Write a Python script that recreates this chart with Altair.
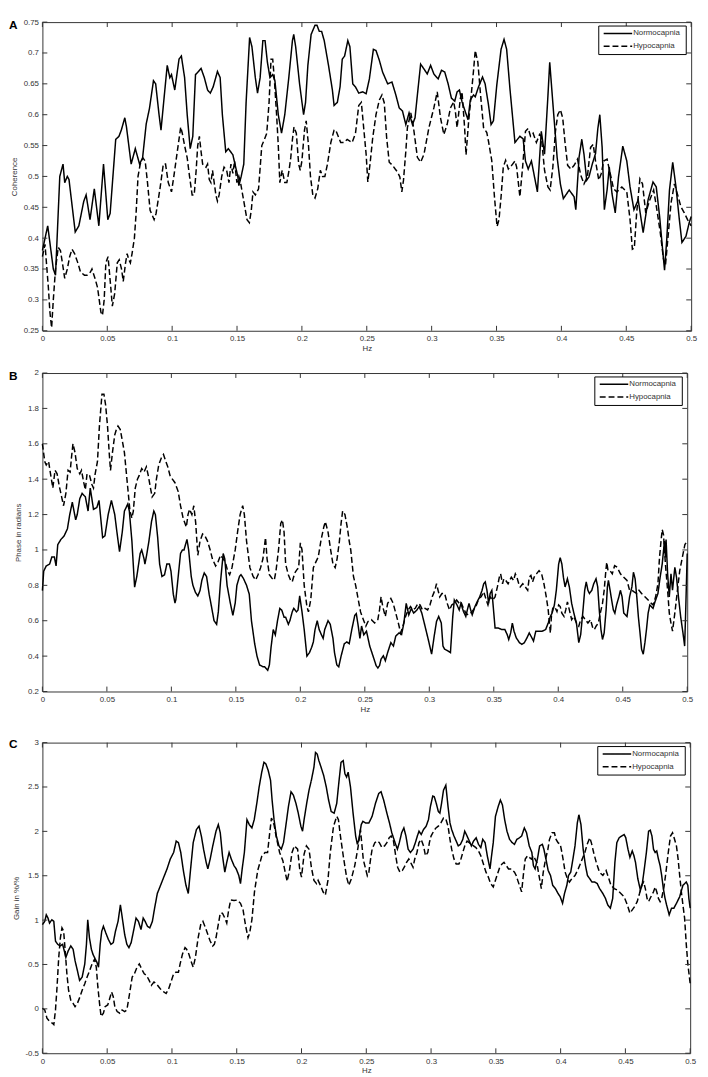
import altair as alt
import pandas as pd

SERIES = ["Normocapnia", "Hypocapnia"]
X_TICKS = [0, 0.05, 0.1, 0.15, 0.2, 0.25, 0.3, 0.35, 0.4, 0.45, 0.5]
A_Y_TICKS = [0.25, 0.3, 0.35, 0.4, 0.45, 0.5, 0.55, 0.6, 0.65, 0.7, 0.75]
B_Y_TICKS = [0.2, 0.4, 0.6, 0.8, 1, 1.2, 1.4, 1.6, 1.8, 2]
C_Y_TICKS = [-0.5, 0, 0.5, 1, 1.5, 2, 2.5, 3]

# Panel A: coherence (Hz, value)
A_NORMOCAPNIA = [
    (0.0, 0.38), (0.0041, 0.42), (0.0084, 0.35), (0.0101, 0.34), (0.0134, 0.50), (0.0159, 0.52),
    (0.0172, 0.49), (0.0192, 0.50), (0.0205, 0.495), (0.0253, 0.41), (0.0281, 0.42), (0.0319, 0.46),
    (0.0337, 0.47), (0.0367, 0.43), (0.0400, 0.48), (0.0435, 0.42), (0.0471, 0.52), (0.0504, 0.43),
    (0.0522, 0.44), (0.0565, 0.56), (0.0590, 0.565), (0.0608, 0.575), (0.0635, 0.595), (0.0648, 0.58),
    (0.0684, 0.52), (0.0716, 0.545), (0.0749, 0.52), (0.0772, 0.53), (0.0800, 0.585), (0.0825, 0.61),
    (0.0856, 0.655), (0.0873, 0.65), (0.0899, 0.60), (0.0914, 0.575), (0.0939, 0.63), (0.0962, 0.68),
    (0.0982, 0.66), (0.0995, 0.665), (0.1020, 0.64), (0.1053, 0.69), (0.1071, 0.695), (0.1096, 0.66),
    (0.1116, 0.60), (0.1139, 0.545), (0.1159, 0.565), (0.1180, 0.665), (0.1203, 0.67), (0.1223, 0.675),
    (0.1248, 0.66), (0.1273, 0.64), (0.1294, 0.635), (0.1316, 0.645), (0.1349, 0.67), (0.1370, 0.66),
    (0.1387, 0.60), (0.1413, 0.54), (0.1433, 0.545), (0.1468, 0.535), (0.1484, 0.52), (0.1506, 0.50),
    (0.1514, 0.485), (0.1532, 0.50), (0.1552, 0.52), (0.1570, 0.62), (0.1597, 0.725), (0.1615, 0.71),
    (0.1641, 0.66), (0.1658, 0.635), (0.1678, 0.66), (0.1699, 0.72), (0.1716, 0.72), (0.1734, 0.685),
    (0.1754, 0.66), (0.1775, 0.665), (0.1792, 0.655), (0.1818, 0.60), (0.1843, 0.57), (0.1868, 0.60),
    (0.1899, 0.66), (0.1927, 0.72), (0.1937, 0.73), (0.1952, 0.71), (0.1982, 0.65), (0.2013, 0.60),
    (0.2028, 0.62), (0.2046, 0.68), (0.2071, 0.73), (0.2101, 0.745), (0.2116, 0.745), (0.2134, 0.735),
    (0.2152, 0.735), (0.2172, 0.72), (0.2205, 0.68), (0.2235, 0.64), (0.2248, 0.615), (0.2273, 0.62),
    (0.2294, 0.645), (0.2311, 0.69), (0.2329, 0.695), (0.2354, 0.72), (0.2370, 0.71), (0.2392, 0.65),
    (0.2413, 0.645), (0.2438, 0.635), (0.2469, 0.637), (0.2495, 0.634), (0.2520, 0.658), (0.2551, 0.706),
    (0.2571, 0.704), (0.2597, 0.688), (0.2622, 0.669), (0.2661, 0.65), (0.2694, 0.653), (0.2724, 0.632),
    (0.2750, 0.611), (0.2775, 0.606), (0.2801, 0.584), (0.2826, 0.603), (0.2852, 0.584), (0.2872, 0.595),
    (0.2890, 0.632), (0.2915, 0.682), (0.2941, 0.674), (0.2966, 0.666), (0.2992, 0.68), (0.3017, 0.666),
    (0.3050, 0.658), (0.3076, 0.672), (0.3101, 0.669), (0.3127, 0.65), (0.3152, 0.627), (0.3178, 0.622),
    (0.3196, 0.637), (0.3214, 0.64), (0.3234, 0.621), (0.3259, 0.605), (0.3280, 0.592), (0.3298, 0.624),
    (0.3323, 0.632), (0.3336, 0.629), (0.3361, 0.645), (0.3392, 0.661), (0.3412, 0.65), (0.3438, 0.616),
    (0.3458, 0.584), (0.3476, 0.59), (0.3502, 0.648), (0.3535, 0.706), (0.3558, 0.722), (0.3578, 0.706),
    (0.3603, 0.643), (0.3642, 0.555), (0.3680, 0.565), (0.3705, 0.561), (0.3723, 0.525), (0.3744, 0.512),
    (0.3769, 0.525), (0.3815, 0.475), (0.3845, 0.573), (0.3870, 0.536), (0.3896, 0.63), (0.3910, 0.685),
    (0.3941, 0.60), (0.3967, 0.531), (0.3992, 0.488), (0.4015, 0.464), (0.4060, 0.478), (0.4098, 0.467),
    (0.4111, 0.446), (0.4136, 0.531), (0.4157, 0.56), (0.4174, 0.536), (0.4195, 0.494), (0.4212, 0.499),
    (0.4238, 0.52), (0.4263, 0.537), (0.4281, 0.578), (0.4296, 0.60), (0.4314, 0.547), (0.4331, 0.446),
    (0.4352, 0.478), (0.4369, 0.515), (0.4390, 0.472), (0.4415, 0.441), (0.4440, 0.499), (0.4473, 0.549),
    (0.4504, 0.525), (0.4529, 0.483), (0.4559, 0.446), (0.4592, 0.462), (0.4630, 0.409), (0.4668, 0.462),
    (0.4706, 0.491), (0.4731, 0.483), (0.4757, 0.435), (0.4782, 0.377), (0.4795, 0.348), (0.4812, 0.398),
    (0.4833, 0.478), (0.4858, 0.523), (0.4883, 0.483), (0.4909, 0.43), (0.4929, 0.393), (0.4960, 0.403),
    (0.4985, 0.425), (0.5, 0.435),
]
A_HYPOCAPNIA = [
    (0.0, 0.37), (0.0020, 0.39), (0.0046, 0.32), (0.0058, 0.28), (0.0071, 0.255), (0.0084, 0.30),
    (0.0101, 0.35), (0.0122, 0.385), (0.0139, 0.38), (0.0154, 0.36), (0.0172, 0.335), (0.0192, 0.35),
    (0.0210, 0.37), (0.0228, 0.382), (0.0248, 0.375), (0.0273, 0.36), (0.0294, 0.345), (0.0324, 0.34),
    (0.0344, 0.34), (0.0370, 0.345), (0.0382, 0.35), (0.0405, 0.335), (0.0425, 0.32), (0.0438, 0.30),
    (0.0451, 0.28), (0.0463, 0.275), (0.0476, 0.30), (0.0489, 0.36), (0.0506, 0.37), (0.0527, 0.32),
    (0.0539, 0.29), (0.0557, 0.31), (0.0577, 0.36), (0.0592, 0.365), (0.0610, 0.35), (0.0623, 0.33),
    (0.0641, 0.36), (0.0653, 0.375), (0.0666, 0.365), (0.0678, 0.36), (0.0691, 0.375), (0.0709, 0.40),
    (0.0722, 0.44), (0.0737, 0.50), (0.0754, 0.52), (0.0775, 0.53), (0.0792, 0.525), (0.0810, 0.49),
    (0.0830, 0.445), (0.0861, 0.43), (0.0876, 0.44), (0.0906, 0.48), (0.0932, 0.52), (0.0949, 0.52),
    (0.0970, 0.49), (0.0995, 0.475), (0.1013, 0.50), (0.1046, 0.55), (0.1066, 0.58), (0.1078, 0.57),
    (0.1096, 0.55), (0.1116, 0.53), (0.1134, 0.50), (0.1154, 0.47), (0.1170, 0.47), (0.1185, 0.51),
    (0.1197, 0.55), (0.1210, 0.565), (0.1223, 0.54), (0.1235, 0.52), (0.1261, 0.515), (0.1273, 0.52),
    (0.1286, 0.495), (0.1299, 0.49), (0.1311, 0.51), (0.1324, 0.49), (0.1337, 0.47), (0.1349, 0.46),
    (0.1362, 0.47), (0.1382, 0.50), (0.1400, 0.515), (0.1420, 0.51), (0.1438, 0.49), (0.1453, 0.52),
    (0.1468, 0.505), (0.1481, 0.525), (0.1499, 0.49), (0.1514, 0.50), (0.1527, 0.49), (0.1552, 0.46),
    (0.1577, 0.43), (0.1595, 0.425), (0.1610, 0.445), (0.1623, 0.475), (0.1641, 0.47), (0.1666, 0.48),
    (0.1691, 0.55), (0.1711, 0.56), (0.1729, 0.57), (0.1747, 0.62), (0.1762, 0.69), (0.1775, 0.69),
    (0.1787, 0.66), (0.1805, 0.60), (0.1818, 0.55), (0.1830, 0.49), (0.1848, 0.51), (0.1868, 0.49),
    (0.1884, 0.49), (0.1901, 0.51), (0.1914, 0.53), (0.1927, 0.56), (0.1939, 0.58), (0.1957, 0.57),
    (0.1975, 0.52), (0.1987, 0.51), (0.2000, 0.525), (0.2020, 0.575), (0.2033, 0.59), (0.2051, 0.55),
    (0.2066, 0.50), (0.2084, 0.47), (0.2101, 0.465), (0.2122, 0.48), (0.2142, 0.51), (0.2159, 0.50),
    (0.2177, 0.50), (0.2197, 0.52), (0.2223, 0.555), (0.2248, 0.575), (0.2261, 0.575), (0.2299, 0.555),
    (0.2324, 0.555), (0.2349, 0.56), (0.2387, 0.555), (0.2413, 0.57), (0.2438, 0.615), (0.2458, 0.62),
    (0.2495, 0.536), (0.2508, 0.491), (0.2525, 0.52), (0.2546, 0.563), (0.2571, 0.60), (0.2597, 0.624),
    (0.2617, 0.632), (0.2635, 0.619), (0.2653, 0.563), (0.2673, 0.523), (0.2699, 0.518), (0.2719, 0.512),
    (0.2737, 0.507), (0.2755, 0.499), (0.2770, 0.475), (0.2783, 0.494), (0.2801, 0.541), (0.2813, 0.579),
    (0.2839, 0.603), (0.2857, 0.584), (0.2890, 0.531), (0.2915, 0.523), (0.2941, 0.536), (0.2979, 0.579),
    (0.3017, 0.611), (0.3043, 0.637), (0.3068, 0.595), (0.3094, 0.568), (0.3119, 0.584), (0.3145, 0.611),
    (0.3170, 0.621), (0.3183, 0.605), (0.3196, 0.579), (0.3221, 0.626), (0.3234, 0.637), (0.3254, 0.579),
    (0.3265, 0.535), (0.3285, 0.589), (0.3305, 0.632), (0.3323, 0.672), (0.3336, 0.704), (0.3356, 0.685),
    (0.3377, 0.632), (0.3400, 0.579), (0.3425, 0.571), (0.3438, 0.557), (0.3463, 0.526), (0.3484, 0.467),
    (0.3504, 0.419), (0.3519, 0.430), (0.3535, 0.467), (0.3552, 0.515), (0.3570, 0.526), (0.3591, 0.512),
    (0.3617, 0.518), (0.3642, 0.525), (0.3655, 0.515), (0.3680, 0.467), (0.3701, 0.515), (0.3723, 0.573),
    (0.3744, 0.578), (0.3762, 0.565), (0.3782, 0.57), (0.3807, 0.555), (0.3832, 0.568), (0.3845, 0.565),
    (0.3870, 0.51), (0.3896, 0.483), (0.3913, 0.478), (0.3934, 0.515), (0.3954, 0.573), (0.3972, 0.60),
    (0.3992, 0.608), (0.4010, 0.595), (0.4027, 0.557), (0.4048, 0.518), (0.4073, 0.512), (0.4098, 0.518),
    (0.4124, 0.528), (0.4149, 0.502), (0.4174, 0.488), (0.4200, 0.499), (0.4225, 0.547), (0.4245, 0.552),
    (0.4263, 0.525), (0.4288, 0.494), (0.4306, 0.504), (0.4326, 0.525), (0.4352, 0.528), (0.4377, 0.504),
    (0.4402, 0.48), (0.4428, 0.475), (0.4466, 0.483), (0.4504, 0.475), (0.4529, 0.43), (0.4547, 0.382),
    (0.4562, 0.384), (0.4580, 0.441), (0.4605, 0.496), (0.4625, 0.488), (0.4650, 0.441), (0.4681, 0.462),
    (0.4711, 0.478), (0.4736, 0.446), (0.4762, 0.409), (0.4787, 0.366), (0.4802, 0.356), (0.4820, 0.398),
    (0.4845, 0.457), (0.4871, 0.488), (0.4896, 0.47), (0.4921, 0.451), (0.4947, 0.441), (0.4972, 0.43),
    (0.5, 0.42),
]

# Panel B: phase in radians (Hz, value)
B_NORMOCAPNIA = [
    (0.0, 0.77), (0.0010, 0.88), (0.0030, 0.91), (0.0056, 0.92), (0.0073, 0.96), (0.0093, 0.96),
    (0.0106, 0.91), (0.0119, 1.03), (0.0144, 1.06), (0.0169, 1.08), (0.0194, 1.12), (0.0212, 1.20),
    (0.0232, 1.27), (0.0245, 1.22), (0.0258, 1.17), (0.0270, 1.20), (0.0290, 1.29), (0.0308, 1.32),
    (0.0333, 1.30), (0.0354, 1.22), (0.0371, 1.35), (0.0396, 1.23), (0.0422, 1.24), (0.0439, 1.28),
    (0.0467, 1.07), (0.0485, 1.08), (0.0510, 1.20), (0.0535, 1.28), (0.0561, 1.20), (0.0578, 1.10),
    (0.0598, 0.99), (0.0619, 1.10), (0.0636, 1.22), (0.0662, 1.26), (0.0674, 1.22), (0.0694, 1.05),
    (0.0715, 0.79), (0.0732, 0.85), (0.0758, 0.98), (0.0770, 1.00), (0.0788, 0.95), (0.0795, 0.92),
    (0.0808, 0.97), (0.0826, 1.05), (0.0846, 1.16), (0.0864, 1.22), (0.0876, 1.20), (0.0894, 1.07),
    (0.0909, 0.92), (0.0927, 0.85), (0.0947, 0.86), (0.0965, 0.92), (0.0985, 0.92), (0.0997, 0.88),
    (0.1015, 0.75), (0.1028, 0.70), (0.1035, 0.72), (0.1053, 0.85), (0.1071, 0.98), (0.1086, 1.00),
    (0.1098, 1.00), (0.1121, 1.06), (0.1134, 1.00), (0.1154, 0.85), (0.1167, 0.80), (0.1187, 0.76),
    (0.1205, 0.74), (0.1222, 0.77), (0.1237, 0.83), (0.1255, 0.87), (0.1273, 0.85), (0.1293, 0.75),
    (0.1306, 0.70), (0.1331, 0.60), (0.1351, 0.58), (0.1364, 0.65), (0.1381, 0.82), (0.1402, 0.98),
    (0.1414, 0.95), (0.1432, 0.80), (0.1457, 0.70), (0.1477, 0.63), (0.1495, 0.70), (0.1508, 0.80),
    (0.1528, 0.85), (0.1540, 0.86), (0.1558, 0.84), (0.1583, 0.80), (0.1604, 0.75), (0.1621, 0.60),
    (0.1646, 0.47), (0.1664, 0.40), (0.1684, 0.35), (0.1710, 0.34), (0.1722, 0.34), (0.1747, 0.32),
    (0.1760, 0.35), (0.1773, 0.45), (0.1790, 0.55), (0.1806, 0.52), (0.1823, 0.60), (0.1841, 0.67),
    (0.1856, 0.66), (0.1874, 0.62), (0.1886, 0.62), (0.1907, 0.58), (0.1919, 0.60), (0.1937, 0.65),
    (0.1949, 0.67), (0.1970, 0.65), (0.1982, 0.66), (0.1995, 0.74), (0.2013, 0.65), (0.2030, 0.55),
    (0.2051, 0.40), (0.2071, 0.42), (0.2088, 0.45), (0.2101, 0.48), (0.2114, 0.55), (0.2131, 0.60),
    (0.2146, 0.55), (0.2164, 0.52), (0.2177, 0.50), (0.2189, 0.55), (0.2215, 0.60), (0.2232, 0.58),
    (0.2253, 0.50), (0.2265, 0.42), (0.2283, 0.35), (0.2298, 0.34), (0.2316, 0.40), (0.2341, 0.47),
    (0.2361, 0.48), (0.2379, 0.47), (0.2399, 0.55), (0.2422, 0.63), (0.2434, 0.64), (0.2449, 0.57),
    (0.2462, 0.50), (0.2475, 0.57), (0.2492, 0.52), (0.2513, 0.541), (0.2538, 0.457), (0.2563, 0.402),
    (0.2588, 0.346), (0.2601, 0.333), (0.2614, 0.346), (0.2626, 0.383), (0.2644, 0.402), (0.2659, 0.374),
    (0.2677, 0.420), (0.2702, 0.476), (0.2722, 0.457), (0.2740, 0.513), (0.2765, 0.531), (0.2785, 0.522),
    (0.2803, 0.587), (0.2821, 0.698), (0.2841, 0.633), (0.2861, 0.670), (0.2879, 0.643), (0.2904, 0.661),
    (0.2922, 0.680), (0.2942, 0.643), (0.2967, 0.569), (0.2992, 0.494), (0.3018, 0.411), (0.3038, 0.513),
    (0.3056, 0.596), (0.3073, 0.624), (0.3093, 0.587), (0.3106, 0.457), (0.3119, 0.439), (0.3144, 0.430),
    (0.3164, 0.420), (0.3182, 0.624), (0.3194, 0.717), (0.3215, 0.689), (0.3232, 0.661), (0.3245, 0.698),
    (0.3265, 0.652), (0.3283, 0.624), (0.3295, 0.661), (0.3308, 0.698), (0.3321, 0.661), (0.3333, 0.633),
    (0.3354, 0.680), (0.3371, 0.707), (0.3391, 0.735), (0.3409, 0.772), (0.3422, 0.809), (0.3434, 0.819),
    (0.3447, 0.772), (0.3460, 0.698), (0.3472, 0.754), (0.3485, 0.772), (0.3510, 0.559), (0.3535, 0.559),
    (0.3561, 0.550), (0.3586, 0.550), (0.3604, 0.522), (0.3616, 0.494), (0.3631, 0.531), (0.3644, 0.587),
    (0.3657, 0.541), (0.3674, 0.504), (0.3699, 0.476), (0.3717, 0.467), (0.3737, 0.476), (0.3758, 0.504),
    (0.3775, 0.531), (0.3795, 0.504), (0.3808, 0.485), (0.3826, 0.541), (0.3851, 0.541), (0.3876, 0.541),
    (0.3902, 0.550), (0.3922, 0.587), (0.3939, 0.624), (0.3952, 0.643), (0.3970, 0.689), (0.3985, 0.772),
    (0.4003, 0.920), (0.4015, 0.957), (0.4028, 0.920), (0.4040, 0.846), (0.4053, 0.791), (0.4071, 0.837),
    (0.4086, 0.791), (0.4104, 0.698), (0.4121, 0.643), (0.4141, 0.587), (0.4159, 0.476), (0.4174, 0.522),
    (0.4192, 0.661), (0.4205, 0.772), (0.4217, 0.819), (0.4230, 0.772), (0.4242, 0.754), (0.4260, 0.772),
    (0.4275, 0.809), (0.4293, 0.837), (0.4306, 0.791), (0.4318, 0.661), (0.4331, 0.550), (0.4343, 0.494),
    (0.4356, 0.531), (0.4371, 0.661), (0.4381, 0.791), (0.4389, 0.828), (0.4402, 0.772), (0.4414, 0.717),
    (0.4427, 0.661), (0.4439, 0.643), (0.4452, 0.689), (0.4470, 0.735), (0.4482, 0.772), (0.4495, 0.735),
    (0.4508, 0.643), (0.4533, 0.624), (0.4553, 0.735), (0.4571, 0.791), (0.4583, 0.874), (0.4596, 0.837),
    (0.4609, 0.735), (0.4621, 0.624), (0.4634, 0.531), (0.4646, 0.439), (0.4659, 0.411), (0.4672, 0.476),
    (0.4684, 0.550), (0.4697, 0.643), (0.4710, 0.689), (0.4722, 0.680), (0.4735, 0.670), (0.4750, 0.707),
    (0.4773, 0.754), (0.4790, 0.846), (0.4806, 0.920), (0.4816, 0.994), (0.4823, 1.050), (0.4831, 0.957),
    (0.4836, 1.059), (0.4848, 0.865), (0.4861, 0.735), (0.4874, 0.865), (0.4886, 0.772), (0.4904, 0.902),
    (0.4917, 0.846), (0.4932, 0.735), (0.4949, 0.624), (0.4967, 0.531), (0.4980, 0.457), (0.4987, 0.624),
    (0.5, 0.98),
]
B_HYPOCAPNIA = [
    (0.0, 1.60), (0.0018, 1.50), (0.0030, 1.48), (0.0048, 1.50), (0.0063, 1.43), (0.0081, 1.35),
    (0.0098, 1.45), (0.0114, 1.43), (0.0131, 1.36), (0.0149, 1.30), (0.0164, 1.25), (0.0182, 1.32),
    (0.0199, 1.45), (0.0215, 1.44), (0.0225, 1.52), (0.0237, 1.60), (0.0253, 1.55), (0.0270, 1.46),
    (0.0290, 1.43), (0.0303, 1.45), (0.0321, 1.38), (0.0333, 1.34), (0.0346, 1.43), (0.0366, 1.42),
    (0.0384, 1.37), (0.0396, 1.35), (0.0409, 1.43), (0.0427, 1.50), (0.0442, 1.70), (0.0462, 1.88),
    (0.0477, 1.88), (0.0490, 1.82), (0.0505, 1.70), (0.0518, 1.55), (0.0528, 1.45), (0.0543, 1.55),
    (0.0561, 1.65), (0.0573, 1.68), (0.0586, 1.70), (0.0604, 1.68), (0.0619, 1.62), (0.0636, 1.55),
    (0.0649, 1.45), (0.0662, 1.35), (0.0679, 1.22), (0.0694, 1.18), (0.0705, 1.22), (0.0720, 1.35),
    (0.0737, 1.40), (0.0750, 1.42), (0.0770, 1.46), (0.0788, 1.44), (0.0806, 1.47), (0.0821, 1.42),
    (0.0838, 1.35), (0.0851, 1.30), (0.0871, 1.32), (0.0884, 1.40), (0.0902, 1.48), (0.0922, 1.52),
    (0.0939, 1.54), (0.0957, 1.50), (0.0972, 1.47), (0.0990, 1.42), (0.1008, 1.40), (0.1028, 1.38),
    (0.1053, 1.33), (0.1071, 1.25), (0.1091, 1.18), (0.1116, 1.13), (0.1129, 1.20), (0.1141, 1.23),
    (0.1159, 1.20), (0.1174, 1.25), (0.1189, 1.15), (0.1205, 0.97), (0.1222, 1.05), (0.1242, 1.09),
    (0.1260, 1.08), (0.1280, 1.05), (0.1301, 1.00), (0.1318, 0.95), (0.1343, 0.91), (0.1361, 0.93),
    (0.1381, 0.97), (0.1402, 0.95), (0.1419, 0.93), (0.1437, 0.88), (0.1452, 0.86), (0.1470, 0.90),
    (0.1495, 1.00), (0.1513, 1.10), (0.1533, 1.20), (0.1553, 1.25), (0.1566, 1.20), (0.1583, 1.05),
    (0.1609, 0.90), (0.1634, 0.85), (0.1654, 0.83), (0.1672, 0.86), (0.1692, 0.90), (0.1710, 0.95),
    (0.1730, 1.07), (0.1742, 0.95), (0.1760, 0.86), (0.1780, 0.84), (0.1798, 0.83), (0.1811, 0.88),
    (0.1831, 1.00), (0.1848, 1.15), (0.1861, 1.17), (0.1874, 1.10), (0.1886, 0.92), (0.1907, 0.86),
    (0.1924, 0.83), (0.1937, 0.82), (0.1957, 0.87), (0.1975, 0.89), (0.1987, 0.90), (0.2000, 1.04),
    (0.2013, 1.00), (0.2030, 0.80), (0.2051, 0.68), (0.2063, 0.65), (0.2081, 0.72), (0.2101, 0.90),
    (0.2119, 0.93), (0.2139, 0.96), (0.2159, 1.05), (0.2182, 1.13), (0.2194, 1.16), (0.2215, 1.10),
    (0.2235, 1.00), (0.2253, 0.92), (0.2270, 0.90), (0.2285, 0.95), (0.2303, 1.05), (0.2316, 1.15),
    (0.2328, 1.22), (0.2346, 1.20), (0.2366, 1.12), (0.2379, 1.05), (0.2391, 1.00), (0.2412, 0.85),
    (0.2429, 0.80), (0.2449, 0.72), (0.2467, 0.65), (0.2492, 0.60), (0.2508, 0.57), (0.2525, 0.596),
    (0.2551, 0.606), (0.2576, 0.587), (0.2601, 0.606), (0.2614, 0.661), (0.2626, 0.735), (0.2639, 0.680),
    (0.2659, 0.624), (0.2677, 0.698), (0.2702, 0.726), (0.2720, 0.698), (0.2740, 0.643), (0.2760, 0.587),
    (0.2778, 0.531), (0.2795, 0.569), (0.2816, 0.624), (0.2836, 0.661), (0.2854, 0.680), (0.2871, 0.661),
    (0.2891, 0.670), (0.2912, 0.698), (0.2929, 0.689), (0.2947, 0.661), (0.2967, 0.670), (0.2987, 0.661),
    (0.3005, 0.689), (0.3023, 0.735), (0.3043, 0.772), (0.3056, 0.809), (0.3068, 0.772), (0.3081, 0.735),
    (0.3098, 0.754), (0.3119, 0.754), (0.3139, 0.698), (0.3157, 0.661), (0.3174, 0.689), (0.3194, 0.698),
    (0.3212, 0.717), (0.3232, 0.698), (0.3245, 0.707), (0.3265, 0.670), (0.3283, 0.643), (0.3301, 0.633),
    (0.3321, 0.643), (0.3341, 0.661), (0.3366, 0.689), (0.3384, 0.726), (0.3402, 0.735), (0.3422, 0.763),
    (0.3442, 0.717), (0.3455, 0.689), (0.3472, 0.735), (0.3492, 0.717), (0.3510, 0.735), (0.3528, 0.791),
    (0.3543, 0.846), (0.3553, 0.865), (0.3568, 0.809), (0.3578, 0.837), (0.3593, 0.828), (0.3611, 0.809),
    (0.3624, 0.828), (0.3636, 0.846), (0.3654, 0.828), (0.3667, 0.865), (0.3679, 0.846), (0.3694, 0.809),
    (0.3705, 0.791), (0.3725, 0.809), (0.3745, 0.791), (0.3763, 0.772), (0.3775, 0.846), (0.3788, 0.856),
    (0.3801, 0.819), (0.3813, 0.846), (0.3831, 0.865), (0.3851, 0.883), (0.3871, 0.865), (0.3889, 0.809),
    (0.3907, 0.735), (0.3922, 0.661), (0.3939, 0.531), (0.3947, 0.624), (0.3957, 0.670), (0.3972, 0.680),
    (0.3990, 0.652), (0.4003, 0.689), (0.4015, 0.680), (0.4028, 0.643), (0.4045, 0.624), (0.4058, 0.661),
    (0.4071, 0.707), (0.4086, 0.661), (0.4104, 0.606), (0.4121, 0.624), (0.4141, 0.587), (0.4159, 0.569),
    (0.4174, 0.606), (0.4192, 0.624), (0.4210, 0.606), (0.4230, 0.587), (0.4250, 0.606), (0.4268, 0.559),
    (0.4280, 0.550), (0.4293, 0.569), (0.4311, 0.587), (0.4326, 0.643), (0.4343, 0.698), (0.4356, 0.772),
    (0.4369, 0.883), (0.4376, 0.930), (0.4386, 0.883), (0.4402, 0.883), (0.4419, 0.865), (0.4437, 0.911),
    (0.4457, 0.902), (0.4482, 0.865), (0.4508, 0.846), (0.4533, 0.828), (0.4553, 0.772), (0.4571, 0.772),
    (0.4588, 0.763), (0.4609, 0.754), (0.4626, 0.772), (0.4646, 0.754), (0.4672, 0.735), (0.4697, 0.717),
    (0.4722, 0.698), (0.4735, 0.689), (0.4755, 0.735), (0.4773, 0.809), (0.4785, 0.957), (0.4798, 1.059),
    (0.4806, 1.115), (0.4816, 1.087), (0.4831, 0.920), (0.4848, 0.772), (0.4861, 0.643), (0.4874, 0.587),
    (0.4886, 0.541), (0.4907, 0.661), (0.4924, 0.772), (0.4942, 0.883), (0.4962, 0.957), (0.4982, 1.031),
    (0.5, 1.050),
]

# Panel C: gain in %/% (Hz, value)
C_NORMOCAPNIA = [
    (0.0, 0.949), (0.0018, 0.986), (0.0030, 1.060), (0.0043, 1.023), (0.0055, 0.967), (0.0073, 1.004),
    (0.0088, 0.986), (0.0101, 0.764), (0.0118, 0.727), (0.0136, 0.709), (0.0156, 0.727), (0.0169, 0.653),
    (0.0181, 0.579), (0.0199, 0.653), (0.0219, 0.709), (0.0237, 0.672), (0.0252, 0.543), (0.0270, 0.432),
    (0.0287, 0.321), (0.0307, 0.358), (0.0327, 0.506), (0.0340, 0.727), (0.0350, 1.004), (0.0363, 0.801),
    (0.0378, 0.672), (0.0390, 0.616), (0.0408, 0.561), (0.0421, 0.524), (0.0433, 0.469), (0.0446, 0.727),
    (0.0458, 0.875), (0.0471, 0.930), (0.0489, 0.857), (0.0509, 0.783), (0.0529, 0.727), (0.0547, 0.746),
    (0.0564, 0.875), (0.0584, 0.986), (0.0602, 1.171), (0.0615, 1.041), (0.0635, 0.838), (0.0652, 0.727),
    (0.0668, 0.690), (0.0685, 0.746), (0.0703, 0.875), (0.0723, 1.023), (0.0741, 0.986), (0.0761, 0.894),
    (0.0778, 1.023), (0.0793, 0.986), (0.0811, 0.930), (0.0829, 0.912), (0.0849, 0.986), (0.0866, 1.134),
    (0.0887, 1.300), (0.0912, 1.392), (0.0937, 1.485), (0.0962, 1.577), (0.0987, 1.688), (0.1013, 1.762),
    (0.1033, 1.891), (0.1050, 1.873), (0.1068, 1.762), (0.1088, 1.559), (0.1108, 1.392), (0.1126, 1.300),
    (0.1144, 1.577), (0.1164, 1.873), (0.1189, 2.021), (0.1209, 2.058), (0.1227, 1.947), (0.1244, 1.799),
    (0.1264, 1.651), (0.1277, 1.577), (0.1295, 1.688), (0.1315, 1.836), (0.1340, 2.002), (0.1358, 2.076),
    (0.1373, 1.984), (0.1390, 1.725), (0.1408, 1.540), (0.1423, 1.651), (0.1441, 1.762), (0.1458, 1.688),
    (0.1479, 1.614), (0.1496, 1.577), (0.1516, 1.503), (0.1529, 1.411), (0.1542, 1.577), (0.1559, 1.762),
    (0.1579, 2.132), (0.1597, 2.076), (0.1617, 2.039), (0.1635, 2.132), (0.1655, 2.316), (0.1673, 2.501),
    (0.1693, 2.667), (0.1710, 2.778), (0.1725, 2.760), (0.1743, 2.686), (0.1761, 2.575), (0.1773, 2.353),
    (0.1788, 2.132), (0.1806, 1.947), (0.1826, 1.836), (0.1844, 1.799), (0.1861, 1.873), (0.1882, 2.095),
    (0.1899, 2.279), (0.1919, 2.446), (0.1937, 2.409), (0.1957, 2.316), (0.1975, 2.205), (0.1995, 2.058),
    (0.2008, 2.002), (0.2020, 2.132), (0.2040, 2.316), (0.2058, 2.464), (0.2076, 2.575), (0.2096, 2.723),
    (0.2108, 2.889), (0.2121, 2.871), (0.2134, 2.797), (0.2151, 2.723), (0.2171, 2.630), (0.2191, 2.501),
    (0.2209, 2.353), (0.2229, 2.224), (0.2252, 2.205), (0.2272, 2.316), (0.2290, 2.575), (0.2305, 2.778),
    (0.2322, 2.797), (0.2335, 2.649), (0.2348, 2.612), (0.2360, 2.667), (0.2378, 2.501), (0.2398, 2.205),
    (0.2418, 1.947), (0.2431, 1.854), (0.2443, 1.910), (0.2461, 2.076), (0.2474, 2.113), (0.2494, 2.095),
    (0.2520, 2.095), (0.2545, 2.169), (0.2571, 2.316), (0.2596, 2.427), (0.2614, 2.446), (0.2634, 2.353),
    (0.2659, 2.205), (0.2679, 2.095), (0.2697, 1.984), (0.2722, 1.873), (0.2740, 1.799), (0.2755, 1.873),
    (0.2773, 1.984), (0.2790, 2.039), (0.2806, 1.947), (0.2823, 1.799), (0.2841, 1.762), (0.2861, 1.799),
    (0.2879, 1.873), (0.2894, 1.947), (0.2907, 2.002), (0.2924, 1.965), (0.2942, 2.021), (0.2962, 2.058),
    (0.2980, 2.132), (0.2995, 2.279), (0.3013, 2.398), (0.3025, 2.390), (0.3040, 2.316), (0.3056, 2.224),
    (0.3068, 2.205), (0.3081, 2.316), (0.3096, 2.464), (0.3114, 2.520), (0.3131, 2.279), (0.3146, 2.095),
    (0.3159, 2.021), (0.3177, 1.947), (0.3194, 1.891), (0.3210, 1.836), (0.3227, 1.854), (0.3245, 1.910),
    (0.3260, 2.002), (0.3278, 1.947), (0.3295, 1.891), (0.3311, 1.836), (0.3328, 1.891), (0.3348, 1.928),
    (0.3366, 1.854), (0.3384, 1.817), (0.3399, 1.910), (0.3417, 1.873), (0.3434, 1.725), (0.3455, 1.577),
    (0.3467, 1.725), (0.3480, 1.873), (0.3497, 2.169), (0.3518, 2.279), (0.3535, 2.353), (0.3551, 2.298),
    (0.3568, 2.132), (0.3586, 2.002), (0.3606, 1.910), (0.3626, 1.873), (0.3644, 1.854), (0.3662, 1.910),
    (0.3682, 1.928), (0.3699, 1.947), (0.3720, 2.039), (0.3737, 1.984), (0.3758, 1.836), (0.3778, 1.762),
    (0.3790, 1.614), (0.3803, 1.577), (0.3821, 1.688), (0.3838, 1.836), (0.3859, 1.854), (0.3871, 1.799),
    (0.3889, 1.670), (0.3904, 1.559), (0.3922, 1.503), (0.3939, 1.392), (0.3960, 1.355), (0.3980, 1.300),
    (0.3997, 1.263), (0.4015, 1.189), (0.4030, 1.300), (0.4048, 1.392), (0.4061, 1.503), (0.4078, 1.540),
    (0.4093, 1.670), (0.4111, 1.836), (0.4129, 2.095), (0.4141, 2.187), (0.4157, 2.076), (0.4174, 1.799),
    (0.4192, 1.614), (0.4207, 1.503), (0.4225, 1.466), (0.4242, 1.429), (0.4263, 1.429), (0.4283, 1.411),
    (0.4301, 1.355), (0.4326, 1.300), (0.4346, 1.245), (0.4364, 1.171), (0.4384, 1.134), (0.4402, 1.245),
    (0.4419, 1.651), (0.4434, 1.873), (0.4452, 1.928), (0.4470, 1.947), (0.4490, 1.965), (0.4503, 1.928),
    (0.4520, 1.799), (0.4535, 1.707), (0.4553, 1.780), (0.4566, 1.725), (0.4578, 1.651), (0.4596, 1.466),
    (0.4616, 1.337), (0.4629, 1.392), (0.4646, 1.577), (0.4662, 1.762), (0.4679, 2.002), (0.4692, 2.013),
    (0.4705, 1.947), (0.4717, 1.799), (0.4730, 1.762), (0.4742, 1.780), (0.4755, 1.688), (0.4768, 1.614),
    (0.4780, 1.503), (0.4793, 1.355), (0.4806, 1.245), (0.4818, 1.171), (0.4838, 1.060), (0.4856, 1.134),
    (0.4874, 1.134), (0.4894, 1.189), (0.4919, 1.263), (0.4944, 1.392), (0.4970, 1.429), (0.4982, 1.392),
    (0.4990, 1.245), (0.5, 1.134),
]
C_HYPOCAPNIA = [
    (0.0, 0.007), (0.0018, -0.012), (0.0035, -0.104), (0.0055, -0.141), (0.0076, -0.160), (0.0088, -0.178),
    (0.0101, -0.012), (0.0113, 0.247), (0.0126, 0.579), (0.0139, 0.801), (0.0151, 0.912), (0.0164, 0.875),
    (0.0176, 0.653), (0.0189, 0.395), (0.0202, 0.210), (0.0219, 0.099), (0.0237, 0.062), (0.0252, 0.025),
    (0.0270, 0.062), (0.0290, 0.136), (0.0307, 0.210), (0.0327, 0.284), (0.0345, 0.358), (0.0365, 0.432),
    (0.0383, 0.506), (0.0403, 0.561), (0.0416, 0.469), (0.0428, 0.247), (0.0441, 0.062), (0.0453, -0.086),
    (0.0471, -0.049), (0.0484, 0.025), (0.0504, 0.044), (0.0516, 0.099), (0.0534, 0.191), (0.0547, 0.136),
    (0.0559, 0.025), (0.0577, -0.030), (0.0597, -0.049), (0.0615, -0.012), (0.0635, -0.030), (0.0652, -0.012),
    (0.0673, 0.173), (0.0693, 0.358), (0.0710, 0.395), (0.0730, 0.469), (0.0748, 0.506), (0.0766, 0.450),
    (0.0786, 0.395), (0.0804, 0.376), (0.0824, 0.321), (0.0841, 0.265), (0.0861, 0.302), (0.0879, 0.284),
    (0.0899, 0.247), (0.0919, 0.210), (0.0937, 0.191), (0.0955, 0.173), (0.0975, 0.228), (0.0992, 0.302),
    (0.1013, 0.395), (0.1030, 0.413), (0.1050, 0.413), (0.1063, 0.506), (0.1081, 0.616), (0.1101, 0.690),
    (0.1113, 0.672), (0.1131, 0.616), (0.1146, 0.543), (0.1164, 0.469), (0.1181, 0.579), (0.1202, 0.801),
    (0.1222, 0.949), (0.1239, 0.986), (0.1259, 0.912), (0.1277, 0.838), (0.1295, 0.764), (0.1315, 0.709),
    (0.1327, 0.727), (0.1340, 0.801), (0.1353, 0.912), (0.1373, 1.078), (0.1390, 1.078), (0.1408, 1.023),
    (0.1423, 0.967), (0.1436, 1.097), (0.1453, 1.226), (0.1479, 1.222), (0.1504, 1.226), (0.1529, 1.189),
    (0.1549, 1.115), (0.1567, 0.949), (0.1587, 0.801), (0.1600, 0.857), (0.1617, 1.004), (0.1637, 1.319),
    (0.1662, 1.559), (0.1693, 1.718), (0.1718, 1.762), (0.1738, 1.762), (0.1756, 2.002), (0.1768, 2.150),
    (0.1788, 2.076), (0.1806, 1.928), (0.1831, 1.762), (0.1856, 1.670), (0.1874, 1.540), (0.1889, 1.437),
    (0.1907, 1.559), (0.1927, 1.762), (0.1945, 1.836), (0.1970, 1.799), (0.1987, 1.559), (0.2000, 1.485),
    (0.2020, 1.744), (0.2038, 1.836), (0.2058, 1.799), (0.2076, 1.596), (0.2096, 1.448), (0.2116, 1.411),
    (0.2128, 1.448), (0.2146, 1.392), (0.2166, 1.319), (0.2184, 1.282), (0.2204, 1.448), (0.2222, 1.762),
    (0.2247, 2.058), (0.2272, 2.169), (0.2285, 2.132), (0.2297, 1.984), (0.2322, 1.725), (0.2348, 1.485),
    (0.2365, 1.392), (0.2385, 1.466), (0.2411, 1.614), (0.2436, 1.817), (0.2455, 2.02), (0.2477, 1.68),
    (0.2508, 1.50), (0.2520, 1.540), (0.2533, 1.688), (0.2545, 1.799), (0.2566, 1.873), (0.2583, 1.891),
    (0.2601, 1.873), (0.2621, 1.817), (0.2641, 1.836), (0.2659, 1.873), (0.2677, 1.928), (0.2692, 1.947),
    (0.2710, 1.891), (0.2727, 1.725), (0.2742, 1.596), (0.2760, 1.540), (0.2778, 1.559), (0.2793, 1.596),
    (0.2811, 1.651), (0.2828, 1.688), (0.2848, 1.633), (0.2861, 1.596), (0.2874, 1.688), (0.2891, 1.762),
    (0.2907, 1.873), (0.2924, 1.910), (0.2942, 1.836), (0.2957, 1.725), (0.2975, 1.762), (0.2987, 1.873),
    (0.3000, 1.947), (0.3020, 2.002), (0.3038, 2.039), (0.3056, 2.058), (0.3076, 2.095), (0.3096, 2.150),
    (0.3114, 2.139), (0.3131, 2.058), (0.3146, 1.910), (0.3159, 1.799), (0.3177, 1.688), (0.3194, 1.633),
    (0.3215, 1.633), (0.3227, 1.670), (0.3245, 1.762), (0.3260, 1.836), (0.3278, 1.891), (0.3295, 1.873),
    (0.3311, 1.854), (0.3328, 1.836), (0.3346, 1.817), (0.3366, 1.780), (0.3384, 1.725), (0.3404, 1.633),
    (0.3424, 1.540), (0.3442, 1.485), (0.3460, 1.411), (0.3480, 1.374), (0.3505, 1.485), (0.3530, 1.596),
    (0.3548, 1.633), (0.3563, 1.651), (0.3581, 1.614), (0.3598, 1.577), (0.3619, 1.577), (0.3644, 1.540),
    (0.3657, 1.503), (0.3669, 1.448), (0.3682, 1.392), (0.3699, 1.319), (0.3712, 1.503), (0.3727, 1.688),
    (0.3745, 1.725), (0.3758, 1.707), (0.3775, 1.688), (0.3790, 1.725), (0.3803, 1.688), (0.3816, 1.651),
    (0.3833, 1.503), (0.3851, 1.355), (0.3866, 1.540), (0.3884, 1.688), (0.3902, 1.799), (0.3914, 1.910),
    (0.3934, 1.984), (0.3952, 1.984), (0.3965, 1.910), (0.3980, 1.873), (0.3997, 1.854), (0.4010, 1.762),
    (0.4023, 1.651), (0.4035, 1.540), (0.4053, 1.466), (0.4068, 1.429), (0.4086, 1.466), (0.4111, 1.503),
    (0.4136, 1.577), (0.4162, 1.670), (0.4187, 1.762), (0.4205, 1.854), (0.4225, 1.928), (0.4237, 1.873),
    (0.4255, 1.762), (0.4275, 1.651), (0.4300, 1.540), (0.4326, 1.503), (0.4351, 1.559), (0.4364, 1.503),
    (0.4389, 1.392), (0.4414, 1.355), (0.4439, 1.337), (0.4465, 1.300), (0.4490, 1.263), (0.4515, 1.171),
    (0.4535, 1.078), (0.4553, 1.115), (0.4571, 1.152), (0.4591, 1.208), (0.4609, 1.300), (0.4624, 1.392),
    (0.4641, 1.429), (0.4654, 1.355), (0.4667, 1.245), (0.4679, 1.208), (0.4697, 1.263), (0.4717, 1.319),
    (0.4730, 1.374), (0.4742, 1.319), (0.4755, 1.245), (0.4768, 1.208), (0.4780, 1.245), (0.4798, 1.374),
    (0.4813, 1.540), (0.4831, 1.762), (0.4848, 1.947), (0.4864, 1.984), (0.4876, 1.928), (0.4894, 1.836),
    (0.4907, 1.688), (0.4919, 1.503), (0.4932, 1.319), (0.4944, 1.171), (0.4957, 1.023), (0.4970, 0.727),
    (0.4982, 0.506), (0.5, 0.284),
]

FONT = "Liberation Sans"
INK = "#000000"
GREY = "#333333"
TICK_LEN = 5
DASHES = [[1, 0], [6, 3]]
LABEL_EXPR = "replace(format(datum.value, '~g'), '\u2212', '-')"


def panel(letter, normo, hypo, y_domain, y_ticks, y_title, w, h, letter_dy):
    rows = [{"hz": x, "val": v, "series": SERIES[0]} for x, v in normo]
    rows += [{"hz": x, "val": v, "series": SERIES[1]} for x, v in hypo]
    df = pd.DataFrame(rows)

    x_scale = alt.Scale(domain=[0, 0.5], nice=False, zero=False)
    y_scale = alt.Scale(domain=y_domain, nice=False, zero=False)
    x_axis = alt.Axis(values=X_TICKS, title="Hz", labelExpr=LABEL_EXPR, labelFlush=False,
                      labelPadding=4, titlePadding=2, labelOverlap=False)
    y_axis = alt.Axis(values=y_ticks, title=y_title, labelExpr=LABEL_EXPR, labelPadding=4,
                      titlePadding=5, labelOverlap=False)

    def X():
        return alt.X("hz:Q", scale=x_scale, axis=x_axis)

    def Y():
        return alt.Y("val:Q", scale=y_scale, axis=y_axis)

    lines = alt.Chart(df).mark_line(color=INK, strokeWidth=1.5).encode(
        x=X(), y=Y(),
        strokeDash=alt.StrokeDash("series:N", scale=alt.Scale(domain=SERIES, range=DASHES), legend=None),
    )

    xt = pd.DataFrame({"hz": X_TICKS})
    yt = pd.DataFrame({"val": y_ticks})
    rk = dict(color=GREY, strokeWidth=1)
    ticks = [
        alt.Chart(xt).mark_rule(**rk).encode(x=X(), y=alt.value(0), y2=alt.value(TICK_LEN)),
        alt.Chart(xt).mark_rule(**rk).encode(x=X(), y=alt.value(h), y2=alt.value(h - TICK_LEN)),
        alt.Chart(yt).mark_rule(**rk).encode(y=Y(), x=alt.value(0), x2=alt.value(TICK_LEN)),
        alt.Chart(yt).mark_rule(**rk).encode(y=Y(), x=alt.value(w), x2=alt.value(w - TICK_LEN)),
    ]

    box = alt.Chart(pd.DataFrame({"series": SERIES[:1]})).mark_rect(
        fill="white", stroke=INK, strokeWidth=1
    ).encode(x=alt.value(w - 94), x2=alt.value(w - 5), y=alt.value(4), y2=alt.value(33))
    entries = []
    for name, dash, yy in zip(SERIES, DASHES, [11.5, 24.5]):
        one = pd.DataFrame({"series": [name]})
        entries.append(alt.Chart(one).mark_rule(color=INK, strokeWidth=1.5, strokeDash=dash).encode(
            x=alt.value(w - 89), x2=alt.value(w - 60), y=alt.value(yy)))
        entries.append(alt.Chart(one).mark_text(
            align="left", baseline="middle", font=FONT, fontSize=8, color=GREY
        ).encode(x=alt.value(w - 59), y=alt.value(yy), text="series:N"))

    tag = alt.Chart(pd.DataFrame({"panel": [letter]})).mark_text(
        align="left", baseline="top", font=FONT, fontSize=12, fontWeight="bold", color=INK
    ).encode(x=alt.value(-34), y=alt.value(letter_dy), text="panel:N")

    return alt.layer(lines, *ticks, box, *entries, tag).properties(width=w, height=h)


pa = panel("A", A_NORMOCAPNIA, A_HYPOCAPNIA, [0.25, 0.75], A_Y_TICKS, "Coherence", 660, 314, -2)
pb = panel("B", B_NORMOCAPNIA, B_HYPOCAPNIA, [0.2, 2], B_Y_TICKS, "Phase in radians", 656, 324, -2)
pc = panel("C", C_NORMOCAPNIA, C_HYPOCAPNIA, [-0.5, 3], C_Y_TICKS, "Gain in %/%", 659, 316, -4)

chart = alt.vconcat(alt.vconcat(pa, pb, spacing=15), pc, spacing=23).properties(
    padding={"left": 0, "top": 0, "right": 2, "bottom": 2}
).configure_view(stroke=GREY, strokeWidth=1).configure_axis(
    grid=False, domain=False, ticks=False,
    labelFont=FONT, labelFontSize=8, labelColor=GREY,
    titleFont=FONT, titleFontSize=8, titleFontWeight="normal", titleColor=GREY,
)

chart.save("out.html", embed_options={"renderer": "svg", "actions": False})
